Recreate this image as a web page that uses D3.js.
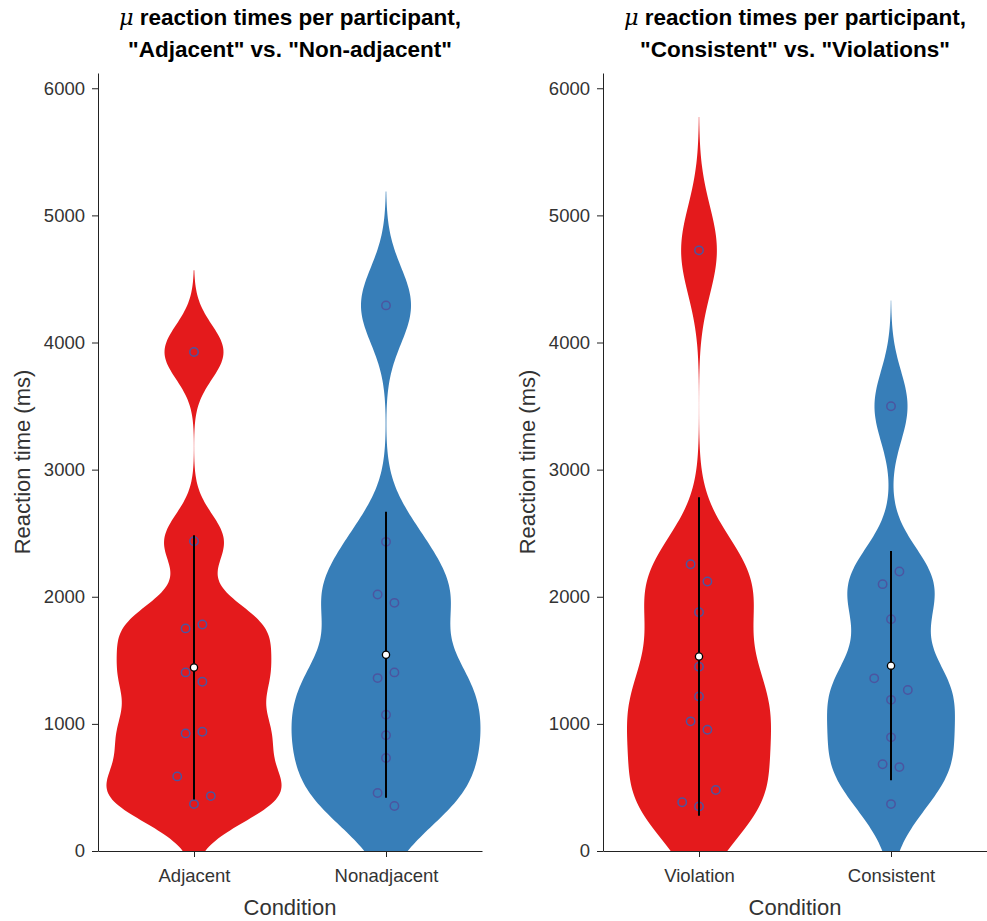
<!DOCTYPE html>
<html>
<head>
<meta charset="utf-8">
<script src="https://cdn.jsdelivr.net/npm/d3@7"></script>
<style>
body { margin: 0; background: #fff; }
text { font-family: "Liberation Sans", Arial, sans-serif; }
</style>
</head>
<body>
<div id="chart"></div>
<script>
// mean reaction time (ms) per participant, one array per condition
var adjacent    = [369, 587, 432, 925, 938, 1405, 1331, 1751, 1782, 2437, 3925];
var nonadjacent = [456, 354, 731, 910, 1072, 1360, 1405, 2018, 1952, 2432, 4292];
var violation   = [351, 383, 480, 1020, 954, 1216, 1449, 1879, 2256, 2120, 4725];
var consistent  = [369, 682, 660, 894, 1189, 1358, 1266, 1824, 2099, 2199, 3498];

var leftCats  = ["Adjacent", "Nonadjacent"];
var rightCats = ["Violation", "Consistent"];
var yTicks = [0, 1000, 2000, 3000, 4000, 5000, 6000];

var colors = ["#e41a1c", "#377eb8"];

var panels = [
  {sub: '"Adjacent" vs. "Non-adjacent"', cats: leftCats, series: [adjacent, nonadjacent], widths: [0.456, 0.492]},
  {sub: '"Consistent" vs. "Violations"', cats: rightCats, series: [violation, consistent], widths: [0.375, 0.333]}
];

var W = 987, H = 921;
var plotTop = 73, plotBottom = 851, plotWidth = 384;
var panelLeft = [98, 603];

var svg = d3.select("#chart").append("svg")
    .attr("width", W)
    .attr("height", H);

var y = d3.scaleLinear()
    .domain([0, 6120])
    .range([plotBottom, plotTop]);

function gauss(u) { return Math.exp(-0.5 * u * u) / Math.sqrt(2 * Math.PI); }
function mad(v) {
  var m = d3.median(v);
  return d3.median(v, function(d) { return Math.abs(d - m); });
}

// points that sit close together are spread sideways, symmetric round the centre
function spreadSlots(vals, gap) {
  var order = d3.range(vals.length).sort(function(a, b) { return vals[a] - vals[b]; });
  var groups = [], cur = [order[0]];
  for (var i = 1; i < order.length; i++) {
    if (vals[order[i]] - vals[order[i - 1]] < gap) cur.push(order[i]);
    else { groups.push(cur); cur = [order[i]]; }
  }
  groups.push(cur);
  var slot = vals.map(function() { return 0; });
  groups.forEach(function(g) {
    g.sort(function(a, b) { return a - b; });
    var n = g.length;
    g.forEach(function(idx, k) {
      var s;
      if (n % 2 === 1) s = k === 0 ? 0 : (k % 2 === 1 ? -1 : 1) * Math.ceil(k / 2);
      else s = (k % 2 === 0 ? -1 : 1) * (Math.floor(k / 2) + 0.5);
      slot[idx] = s;
    });
  });
  return slot;
}

panels.forEach(function(p, pi) {
  var g = svg.append("g")
      .attr("transform", "translate(" + panelLeft[pi] + ",0)");

  var x = d3.scalePoint()
      .domain(p.cats)
      .range([0, plotWidth])
      .padding(0.5);
  var step = x.step();

  g.append("clipPath").attr("id", "clip" + pi)
    .append("rect")
      .attr("x", 0).attr("y", plotTop)
      .attr("width", plotWidth).attr("height", plotBottom - plotTop);

  p.series.forEach(function(vals, si) {
    var cx = x(p.cats[si]);
    var h = 0.475 * mad(vals);
    var lo = d3.min(vals) - 3 * h, hi = d3.max(vals) + 3 * h;
    var grid = d3.range(0, 301).map(function(i) { return lo + (hi - lo) * i / 300; });
    var dens = grid.map(function(v) {
      return [v, d3.mean(vals, function(d) { return gauss((v - d) / h); }) / h];
    });
    var w = d3.scaleLinear()
        .domain([0, d3.max(dens, function(d) { return d[1]; })])
        .range([0, p.widths[si] * step]);

    var area = d3.area()
        .y(function(d) { return y(d[0]); })
        .x0(function(d) { return cx - w(d[1]); })
        .x1(function(d) { return cx + w(d[1]); });

    g.append("path")
      .datum(dens)
      .attr("clip-path", "url(#clip" + pi + ")")
      .attr("fill", colors[si])
      .attr("d", area);

    var slots = spreadSlots(vals, 158);
    g.selectAll(null)
      .data(vals)
      .enter().append("circle")
        .attr("cx", function(d, i) { return cx + slots[i] * 0.0875 * step; })
        .attr("cy", function(d) { return y(d); })
        .attr("r", 4.2)
        .attr("fill", "none")
        .attr("stroke", "#4b55a0")
        .attr("stroke-width", 1.5);

    var mean = d3.mean(vals), sd = d3.deviation(vals);
    g.append("line")
      .attr("x1", cx).attr("x2", cx)
      .attr("y1", y(mean - sd)).attr("y2", y(mean + sd))
      .attr("stroke", "#000")
      .attr("stroke-width", 2);
    g.append("circle")
      .attr("cx", cx).attr("cy", y(mean))
      .attr("r", 3.6)
      .attr("fill", "#fff")
      .attr("stroke", "#000")
      .attr("stroke-width", 1.3);
  });

  // axes
  var ya = g.append("g")
      .call(d3.axisLeft(y).tickValues(yTicks).tickFormat(d3.format("d"))
        .tickSize(6).tickPadding(7).tickSizeOuter(0));
  var xa = g.append("g")
      .attr("transform", "translate(0," + plotBottom + ")")
      .call(d3.axisBottom(x).tickSize(6).tickPadding(12).tickSizeOuter(0));
  [ya, xa].forEach(function(a) {
    a.attr("font-family", null).attr("font-size", 18.5);
    a.selectAll("text").attr("fill", "#333");
    a.selectAll("path, line").attr("stroke", "#222");
  });

  // labels
  g.append("text")
    .attr("x", plotWidth / 2).attr("y", 915)
    .attr("text-anchor", "middle")
    .attr("font-size", 22)
    .attr("fill", "#333")
    .text("Condition");
  g.append("text")
    .attr("transform", "translate(" + (-68) + "," + ((plotTop + plotBottom) / 2) + ") rotate(-90)")
    .attr("text-anchor", "middle")
    .attr("font-size", 22)
    .attr("fill", "#333")
    .text("Reaction time (ms)");

  var t1 = g.append("text")
    .attr("x", plotWidth / 2).attr("y", 25)
    .attr("text-anchor", "middle")
    .attr("font-size", 22.5)
    .attr("font-weight", "bold");
  t1.append("tspan")
    .attr("font-family", "DejaVu Serif")
    .attr("font-style", "italic")
    .attr("font-weight", "normal")
    .text("\u03bc");
  t1.append("tspan").text(" reaction times per participant,");
  g.append("text")
    .attr("x", plotWidth / 2).attr("y", 57)
    .attr("text-anchor", "middle")
    .attr("font-size", 22.5)
    .attr("font-weight", "bold")
    .text(p.sub);
});
</script>
</body>
</html>
